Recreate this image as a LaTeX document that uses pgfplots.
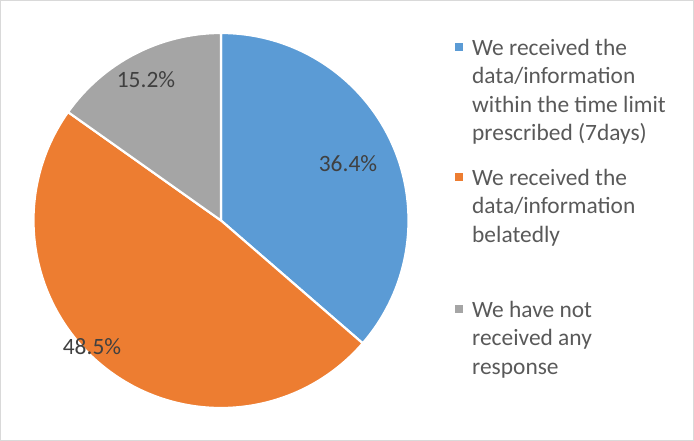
\documentclass[border=0pt]{standalone}
\usepackage{pgfplots}
\pgfplotsset{compat=1.18}
\usepackage{pgfplotstable}
\usepackage{fontspec}
\setmainfont{Carlito}

\definecolor{pieblue}{HTML}{5B9BD5}
\definecolor{pieorange}{HTML}{ED7D31}
\definecolor{piegray}{HTML}{A5A5A5}
\definecolor{labeltext}{HTML}{404040}
\definecolor{legtext}{HTML}{595959}
\definecolor{framec}{HTML}{D9D9D9}

% shares in percent, clockwise from 12 o'clock
\pgfplotstableread{
share
36.4
48.5
15.2
}\piedata

\newcommand{\legline}[2]{\node[anchor=base west, inner sep=0pt, text=legtext,
  font=\fontsize{23.5}{28.5}\selectfont] at (axis cs:472,{441-#1}) {#2};}

\begin{document}%
\pgfplotstablegetelem{0}{share}\of\piedata\let\va\pgfplotsretval%
\pgfplotstablegetelem{1}{share}\of\piedata\let\vb\pgfplotsretval%
\pgfplotstablegetelem{2}{share}\of\piedata\let\vc\pgfplotsretval%
\pgfmathsetmacro\tot{\va+\vb+\vc}%
\pgfmathsetmacro\aA{90-360*(\va/\tot)}%
\pgfmathsetmacro\aB{\aA-360*(\vb/\tot)}%
\pgfmathsetmacro\aC{\aB-360*(\vc/\tot)}%
\begin{tikzpicture}
\begin{axis}[
    x=1bp, y=1bp,
    xmin=0, xmax=694, ymin=0, ymax=441,
    hide axis, clip=false,
    anchor=origin, at={(0,0)},
  ]
  \draw[framec, line width=1bp] (axis cs:0.5,0.5) rectangle (axis cs:693.5,440.5);

  \filldraw[fill=pieblue, draw=white, line width=2.2bp, line join=round]
    (axis cs:221,220.5) -- ++(90:187.5bp) arc[start angle=90, end angle=\aA, radius=187.5bp] -- cycle;
  \filldraw[fill=pieorange, draw=white, line width=2.2bp, line join=round]
    (axis cs:221,220.5) -- ++(\aA:187.5bp) arc[start angle=\aA, end angle=\aB, radius=187.5bp] -- cycle;
  \filldraw[fill=piegray, draw=white, line width=2.2bp, line join=round]
    (axis cs:221,220.5) -- ++(\aB:187.5bp) arc[start angle=\aB, end angle=\aC, radius=187.5bp] -- cycle;

  % data labels
  \node[text=labeltext, font=\fontsize{23.5}{28.5}\selectfont] at (axis cs:348,277) {\va\%};
  \node[text=labeltext, font=\fontsize{23.5}{28.5}\selectfont] at (axis cs:92,94) {\vb\%};
  \node[text=labeltext, font=\fontsize{23.5}{28.5}\selectfont] at (axis cs:146,361) {\vc\%};

  % legend
  \fill[pieblue] (axis cs:455,{441-51}) rectangle (axis cs:463,{441-43});
  \fill[pieorange] (axis cs:455,{441-181}) rectangle (axis cs:463,{441-173});
  \fill[piegray] (axis cs:455,{441-313}) rectangle (axis cs:463,{441-305});
  \legline{55}{We received the}
  \legline{83.5}{data/information}
  \legline{112}{within the time limit}
  \legline{140.5}{prescribed (7days)}
  \legline{185}{We received the}
  \legline{213.5}{data/information}
  \legline{242}{belatedly}
  \legline{317}{We have not}
  \legline{345.5}{received any}
  \legline{374}{response}
\end{axis}
\pgfresetboundingbox
\useasboundingbox (0,0) rectangle (694bp,441bp);
\end{tikzpicture}%
\end{document}
